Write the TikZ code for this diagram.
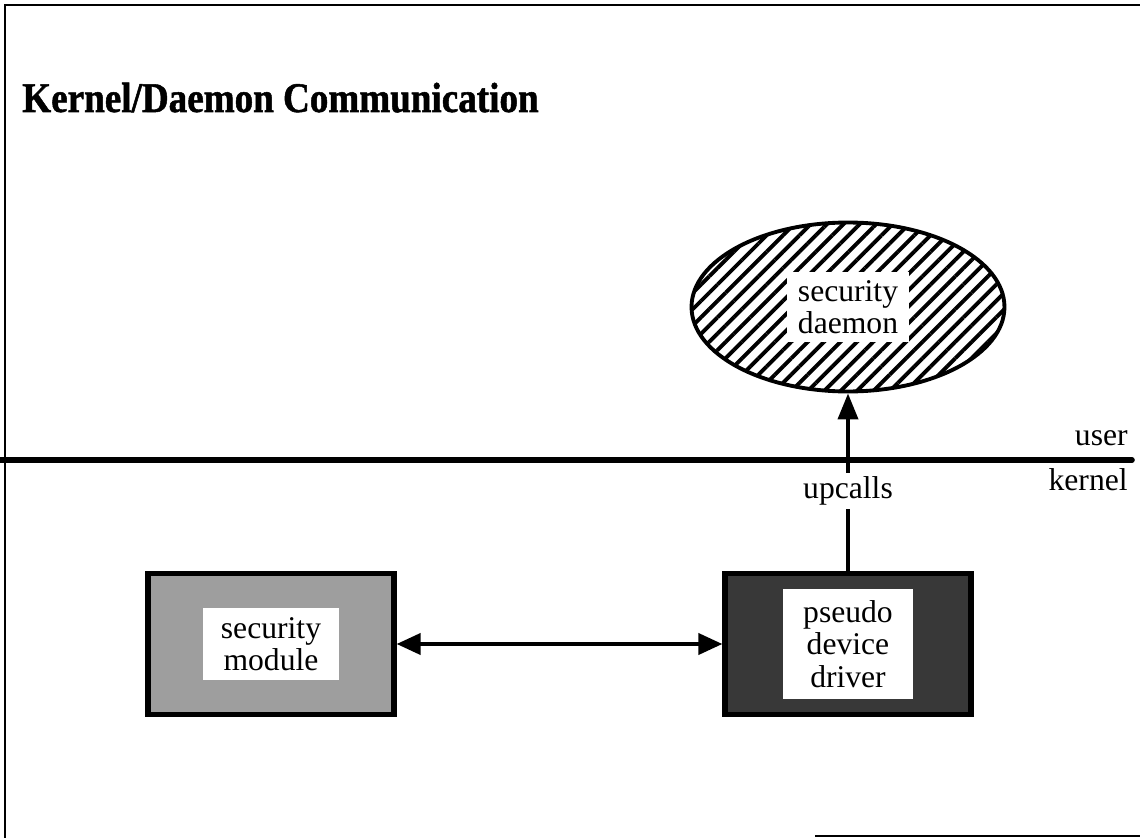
\documentclass[tikz,border=0pt]{standalone}
\usepackage{fontspec}
\setmainfont{Liberation Serif}
\newfontfamily\titlefont[FakeStretch=0.88, FakeBold=1.2]{Liberation Serif Bold}
\usetikzlibrary{arrows.meta,positioning,shapes.geometric,patterns.meta}

\begin{document}
\begin{tikzpicture}[
  x=0.02cm, y=-0.02cm,
  font=\fontsize{18}{18.5}\selectfont,
  box/.style={draw=black, line width=3pt, minimum width=4.92cm, minimum height=2.82cm},
  inbox/.style={fill=white, align=center, inner sep=0pt},
  flow/.style={line width=2.2pt, -{Triangle[length=0.52cm, width=0.4cm]}},
  both/.style={line width=2.2pt, {Triangle[length=0.48cm, width=0.42cm]}-{Triangle[length=0.48cm, width=0.42cm]}},
  divider/.style={line width=3.2pt, line cap=round},
  frame/.style={line width=1.6pt}
]
\useasboundingbox (0,0) rectangle (1140,838);
% frame and title
\draw[frame] (1140,5) -- (5,5) -- (5,838);
\draw[frame] (815,836) -- (1140,836);
\node[anchor=base west, inner sep=0pt, font=\fontsize{24}{26}\titlefont] (title) at (22,112) {Kernel/Daemon Communication};

% user / kernel boundary
\coordinate (divL) at (0,460);
\coordinate (divR) at (1132,460);
\draw[divider] (divL) -- (divR);
\node[anchor=base east, inner sep=0pt] (user) at (1128,445) {user};
\node[anchor=base east, inner sep=0pt] (kernel) at (1128,490) {kernel};

% security daemon
\node[ellipse, draw=black, line width=2.2pt, minimum width=6.26cm, minimum height=3.38cm,
  pattern={Lines[angle=45, distance=6.6pt, line width=2.2pt]}] (daemon) at (848,307) {};
\node[inbox, minimum width=2.46cm, minimum height=1.4cm] (daemontxt) at (daemon) {security\\daemon};

% kernel boxes
\node[box, fill=black!38] (module) at (271,644) {};
\node[inbox, minimum width=2.72cm, minimum height=1.46cm] (moduletxt) at (module) {security\\module};
\node[box, fill=black!78] (driver) at (848,644) {};
\node[inbox, minimum width=2.62cm, minimum height=2.2cm] (drivertxt) at (driver) {pseudo\\device\\driver};

\draw[both] (module) -- (driver);
\draw[flow] (driver.north) -- (daemon.south) node[pos=0.45, fill=white, inner sep=2pt] {upcalls};
\end{tikzpicture}
\end{document}
